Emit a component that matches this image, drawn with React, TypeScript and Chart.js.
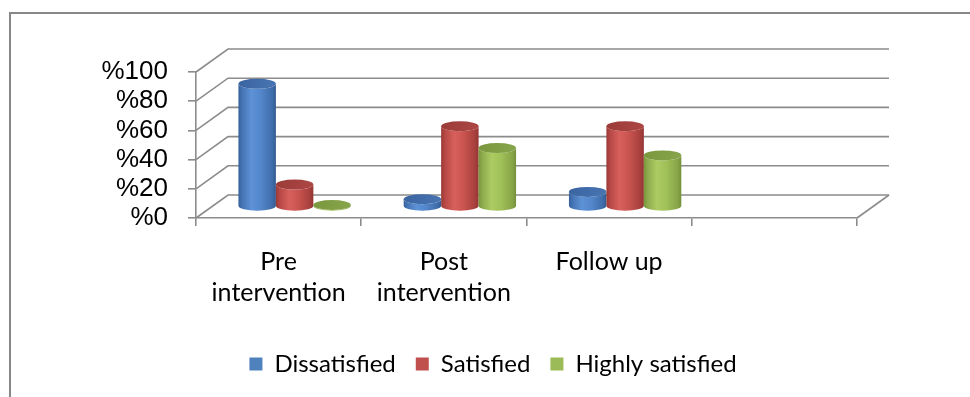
import React, { useEffect, useRef } from 'react';
import { Chart, registerables } from 'chart.js';

Chart.register(...registerables);

const categories: (string | string[])[] = [['Pre', 'intervention'], ['Post', 'intervention'], 'Follow up', ''];
const seriesNames = ['Dissatisfied', 'Satisfied', 'Highly satisfied'];
const dissatisfied = [84, 5, 10, null];
const satisfied = [15, 55, 55, null];
const highlySatisfied = [1, 40, 35, null];
const yTickValues = [0, 20, 40, 60, 80, 100];

const legendColors = ['#4F81BD', '#C0504D', '#9BBB59'];
const bodyStops = [
  ['#37609a', '#4574b4', '#5d92d7', '#5386ca', '#3f6dab', '#335a92'],
  ['#983835', '#b64845', '#d7605c', '#c9544f', '#a8403d', '#923532'],
  ['#78953b', '#8dab4d', '#accc63', '#a0c058', '#88a548', '#74903a'],
];
const topColors = [
  ['#3a64a0', '#4875b3'],
  ['#9a3b38', '#ad4744'],
  ['#7a973e', '#87a54a'],
];

const GRID = '#8c8c8c';
const DEPTH_X = 32;
const DEPTH_Y = -23;

function drawCylinder(ctx: CanvasRenderingContext2D, cx: number, top: number, base: number, w: number, s: number) {
  const rx = w / 2;
  const ry = 5;
  const left = cx - rx;
  const right = cx + rx;
  const g = ctx.createLinearGradient(left, 0, right, 0);
  const stops = [0, 0.1, 0.35, 0.6, 0.9, 1];
  stops.forEach((p, i) => g.addColorStop(p, bodyStops[s][i]));
  ctx.beginPath();
  ctx.moveTo(left, top);
  ctx.lineTo(left, base);
  ctx.ellipse(cx, base, rx, ry, 0, Math.PI, 0, true);
  ctx.lineTo(right, top);
  ctx.ellipse(cx, top, rx, ry, 0, 0, Math.PI, false);
  ctx.closePath();
  ctx.fillStyle = g;
  ctx.fill();
  const tg = ctx.createLinearGradient(left, top - ry, right, top + ry);
  tg.addColorStop(0, topColors[s][0]);
  tg.addColorStop(1, topColors[s][1]);
  ctx.beginPath();
  ctx.ellipse(cx, top, rx, ry, 0, 0, Math.PI * 2);
  ctx.fillStyle = tg;
  ctx.fill();
}

const excel3d = {
  id: 'excel3d',
  beforeDraw(chart: any) {
    const ctx: CanvasRenderingContext2D = chart.ctx;
    const area = chart.chartArea;
    const y = chart.scales.y;
    ctx.save();
    ctx.strokeStyle = '#878787';
    ctx.lineWidth = 2;
    ctx.beginPath();
    ctx.moveTo(10, chart.height + 2);
    ctx.lineTo(10, 13);
    ctx.lineTo(chart.width + 2, 13);
    ctx.stroke();
    ctx.strokeStyle = GRID;
    ctx.lineWidth = 1.6;
    yTickValues.forEach((v) => {
      const py = y.getPixelForValue(v);
      ctx.beginPath();
      ctx.moveTo(area.left, py);
      ctx.lineTo(area.left + DEPTH_X, py + DEPTH_Y);
      ctx.lineTo(area.right + DEPTH_X, py + DEPTH_Y);
      ctx.stroke();
    });
    ctx.beginPath();
    ctx.moveTo(area.right, area.bottom);
    ctx.lineTo(area.right + DEPTH_X, area.bottom + DEPTH_Y);
    ctx.stroke();
    ctx.restore();
  },
  beforeDatasetsDraw(chart: any) {
    const ctx: CanvasRenderingContext2D = chart.ctx;
    ctx.save();
    ctx.translate(DEPTH_X / 2, DEPTH_Y / 2);
    const n = chart.data.labels.length;
    for (let c = 0; c < n; c++) {
      chart.data.datasets.forEach((ds: any, s: number) => {
        const meta = chart.getDatasetMeta(s);
        const el = meta.data[c];
        if (!el || ds.data[c] == null) return;
        const { x, y, base, width } = el.getProps(['x', 'y', 'base', 'width'], true);
        if (!isFinite(y)) return;
        drawCylinder(ctx, x, y, base, width, s);
      });
    }
    ctx.restore();
    return false;
  },
};

export default function App() {
  const ref = useRef<HTMLCanvasElement | null>(null);
  useEffect(() => {
    if (!ref.current) return;
    const seriesData = [dissatisfied, satisfied, highlySatisfied];
    const chart = new Chart(ref.current, {
      type: 'bar',
      data: {
        labels: categories,
        datasets: seriesNames.map((name, i) => ({
          label: name,
          data: seriesData[i],
          backgroundColor: legendColors[i],
          borderWidth: 0,
          barPercentage: 1,
          categoryPercentage: 0.68,
        })),
      },
      plugins: [excel3d],
      options: {
        responsive: false,
        animation: false,
        events: [],
        layout: { padding: { left: 16, right: 0, top: 72, bottom: 11 } },
        scales: {
          x: {
            offset: true,
            grid: { offset: true, drawOnChartArea: false, tickLength: 8, tickColor: GRID, lineWidth: 1.6 },
            border: { display: true, color: GRID, width: 1.6 },
            ticks: {
              autoSkip: false,
              maxRotation: 0,
              padding: 20,
              color: '#000',
              font: { family: 'Lato', size: 25, lineHeight: 1.24 },
            },
            afterFit: (s: any) => { s.height = 114; },
          },
          y: {
            min: 0,
            max: 100,
            afterBuildTicks: (s: any) => { s.ticks = yTickValues.map((v) => ({ value: v })); },
            grid: { drawOnChartArea: false, tickLength: 8, tickColor: GRID, lineWidth: 1.6 },
            border: { display: true, color: GRID, width: 1.6 },
            ticks: {
              autoSkip: false,
              padding: 20,
              color: '#000',
              font: { family: 'Liberation Sans', size: 26 },
              callback: (v: any) => '%' + v,
            },
            afterFit: (s: any) => { s.width = 180; },
          },
          y2: {
            position: 'right',
            grid: { display: false },
            border: { display: false },
            ticks: { display: false },
            afterFit: (s: any) => { s.width = 113; },
          },
        },
        plugins: {
          legend: {
            position: 'bottom',
            labels: {
              boxWidth: 13,
              boxHeight: 13,
              padding: 20,
              color: '#000',
              font: { family: 'Lato', size: 24 },
            },
          },
          tooltip: { enabled: false },
        },
      },
    });
    return () => chart.destroy();
  }, []);
  return (
    <div style={{ position: 'absolute', left: 0, top: 0, width: 970, height: 397, background: '#fff' }}>
      <canvas ref={ref} width={970} height={397} />
    </div>
  );
}
